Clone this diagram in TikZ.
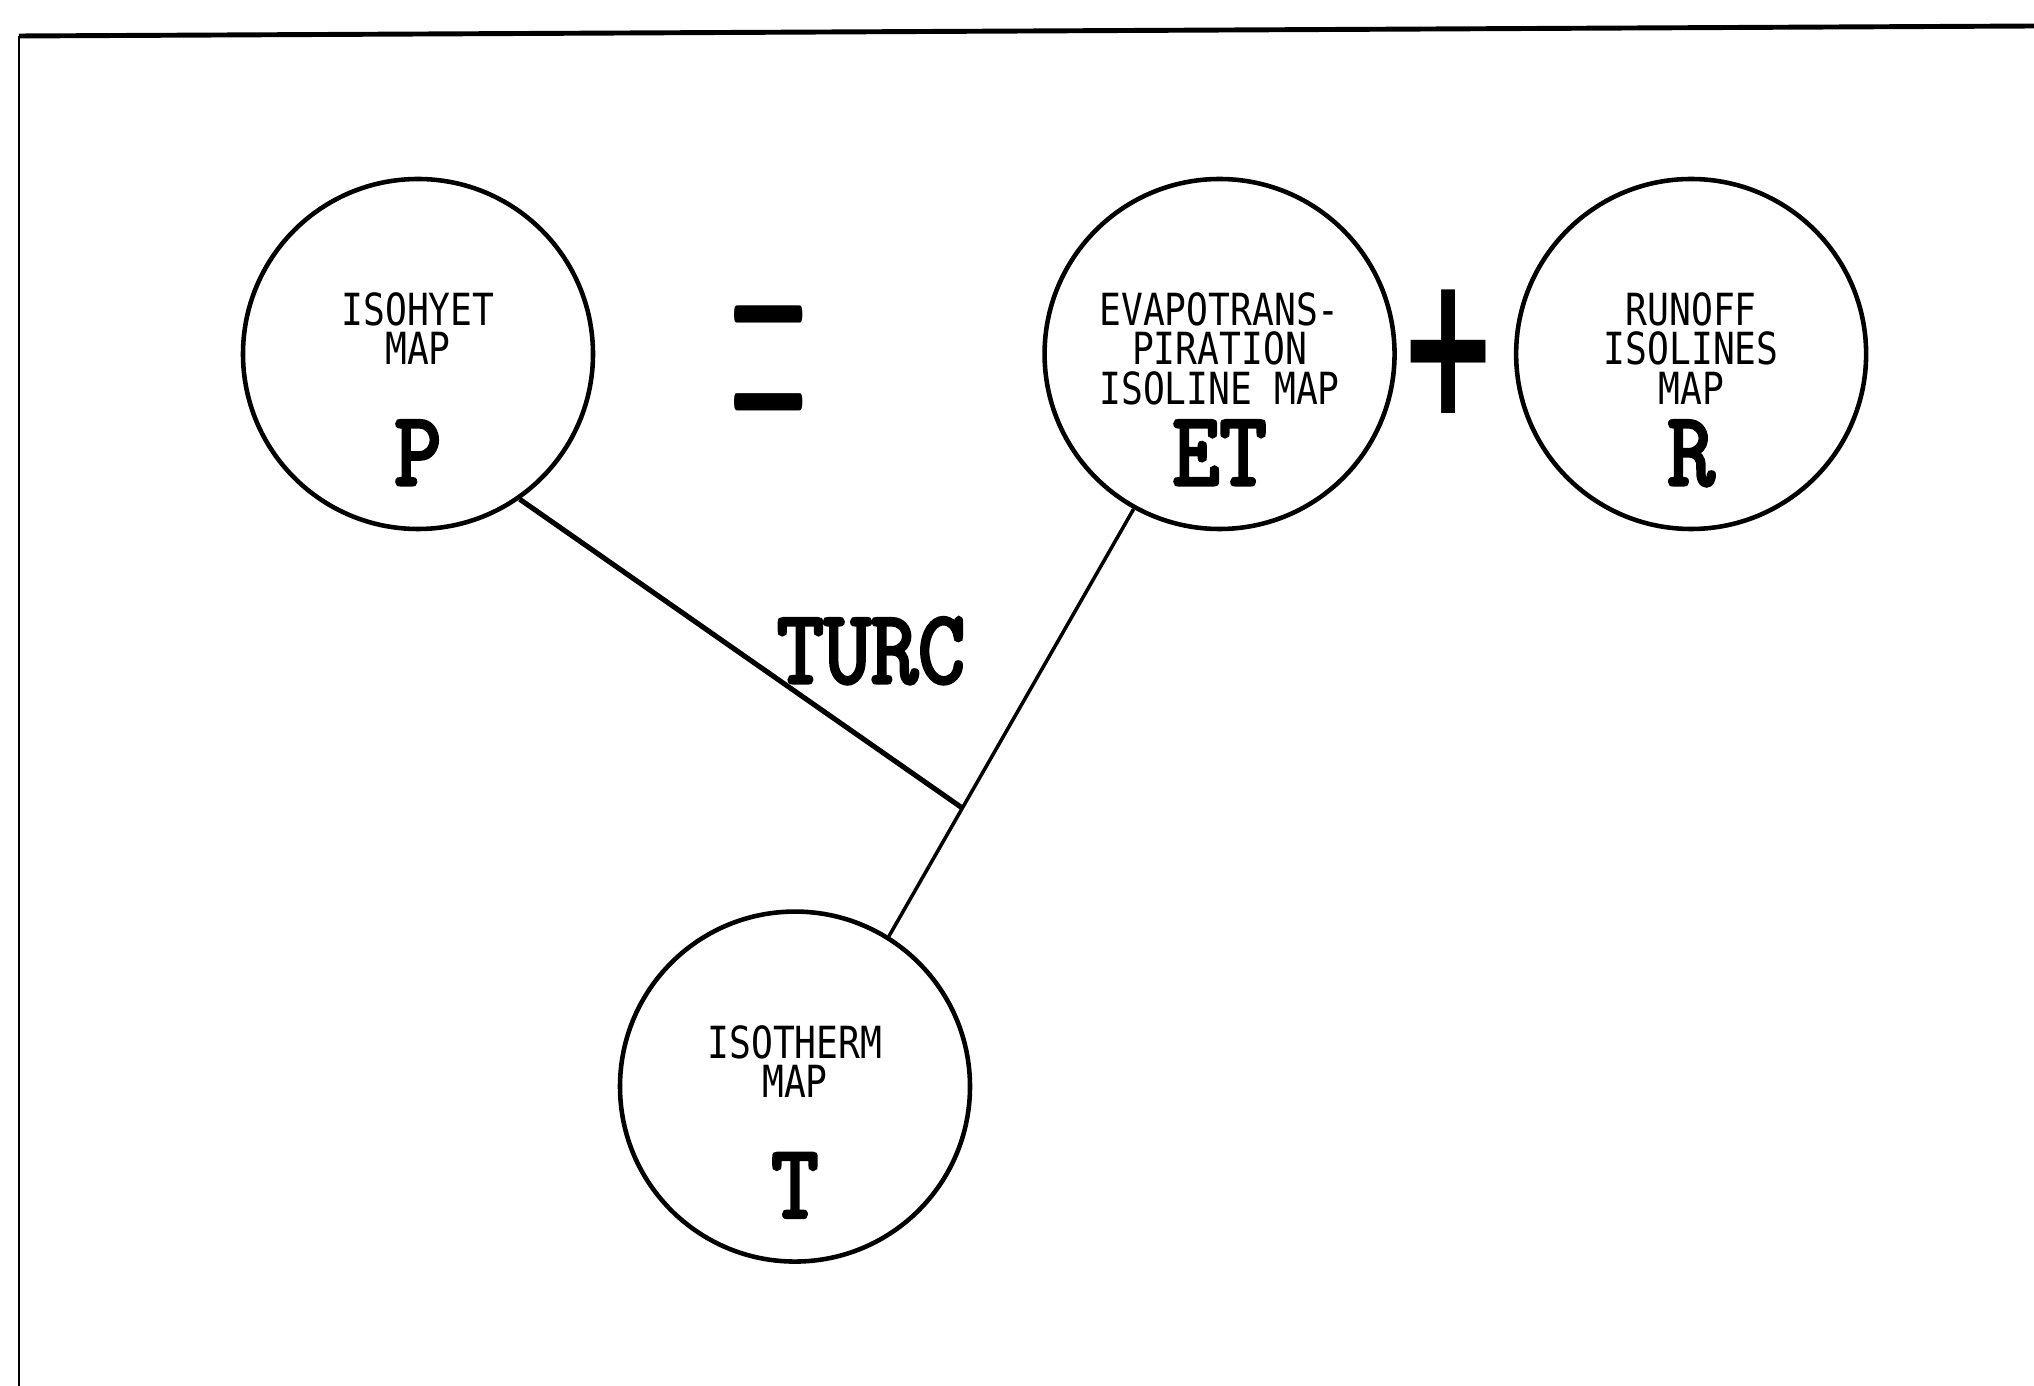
\documentclass[tikz,border=0pt]{standalone}
\usepackage{fontspec}
\usepackage{tikz}
\usetikzlibrary{positioning, calc}

\newfontfamily\lblfont{DejaVu Sans Mono}[FakeStretch=0.82]
\newfontfamily\bigfont{lmmono10-regular.otf}[FakeStretch=0.85, FakeBold=3]
\newfontfamily\symfont{DejaVu Sans}

\begin{document}
\begin{tikzpicture}[
    mapcircle/.style={draw, circle, line width=1.3pt, minimum size=3.5cm, inner sep=0pt},
    maplabel/.style={anchor=north, inner sep=0pt, align=center, font=\lblfont\fontsize{12.6}{11.2}\selectfont},
    mapsymbol/.style={anchor=base, inner sep=0pt, font=\bigfont\fontsize{30}{30}\selectfont},
    opsign/.style={inner sep=0pt}
]

    \useasboundingbox (0,0) rectangle (20.34,-13.86);

    % Page frame (top and left edge only)
    \draw[line width=0.8pt] (0.19,-13.86) -- (0.19,-0.36);
    \draw[line width=1.4pt] (0.19,-0.36) -- (20.34,-0.26);

    % Isohyet map
    \node[mapcircle] (P) at (4.18,-3.54) {};
    \node[maplabel] (P_txt) at ([yshift=0.62cm]P.center) {ISOHYET\\MAP};
    \node[mapsymbol] (P_sym) at ([yshift=-1.31cm]P.center) {P};

    % Evapotranspiration map
    \node[mapcircle, right=4.47cm of P] (ET) {};
    \node[maplabel] (ET_txt) at ([yshift=0.62cm]ET.center) {EVAPOTRANS-\\PIRATION\\ISOLINE MAP};
    \node[mapsymbol] (ET_sym) at ([yshift=-1.31cm]ET.center) {ET};

    % Runoff map
    \node[mapcircle, right=1.17cm of ET] (R) {};
    \node[maplabel] (R_txt) at ([yshift=0.62cm]R.center) {RUNOFF\\ISOLINES\\MAP};
    \node[mapsymbol] (R_sym) at ([yshift=-1.31cm]R.center) {R};

    % Isotherm map
    \node[mapcircle, below=3.78cm of P, xshift=3.77cm] (T) {};
    \node[maplabel] (T_txt) at ([yshift=0.62cm]T.center) {ISOTHERM\\MAP};
    \node[mapsymbol] (T_sym) at ([yshift=-1.31cm]T.center) {T};

    % Equation signs
    \node[opsign] (eq_sign) at (7.69,-3.94) {\fontsize{31}{31}\selectfont\scalebox{1}[4.53]{=}};
    \node[opsign] (plus_sign) at (14.49,-3.52) {\symfont\bfseries\fontsize{34}{34}\selectfont\scalebox{1}[1.65]{+}};

    % Turc relation
    \coordinate (jn) at ($(ET.-119)!0.7!(T.58)$);
    \draw[line width=1.0pt] (ET.-119) -- (T.58);
    \draw[line width=1.45pt] (P.-55) -- (jn);
    \node[mapsymbol] (turc) at (8.71,-6.83) {TURC};

\end{tikzpicture}
\end{document}
